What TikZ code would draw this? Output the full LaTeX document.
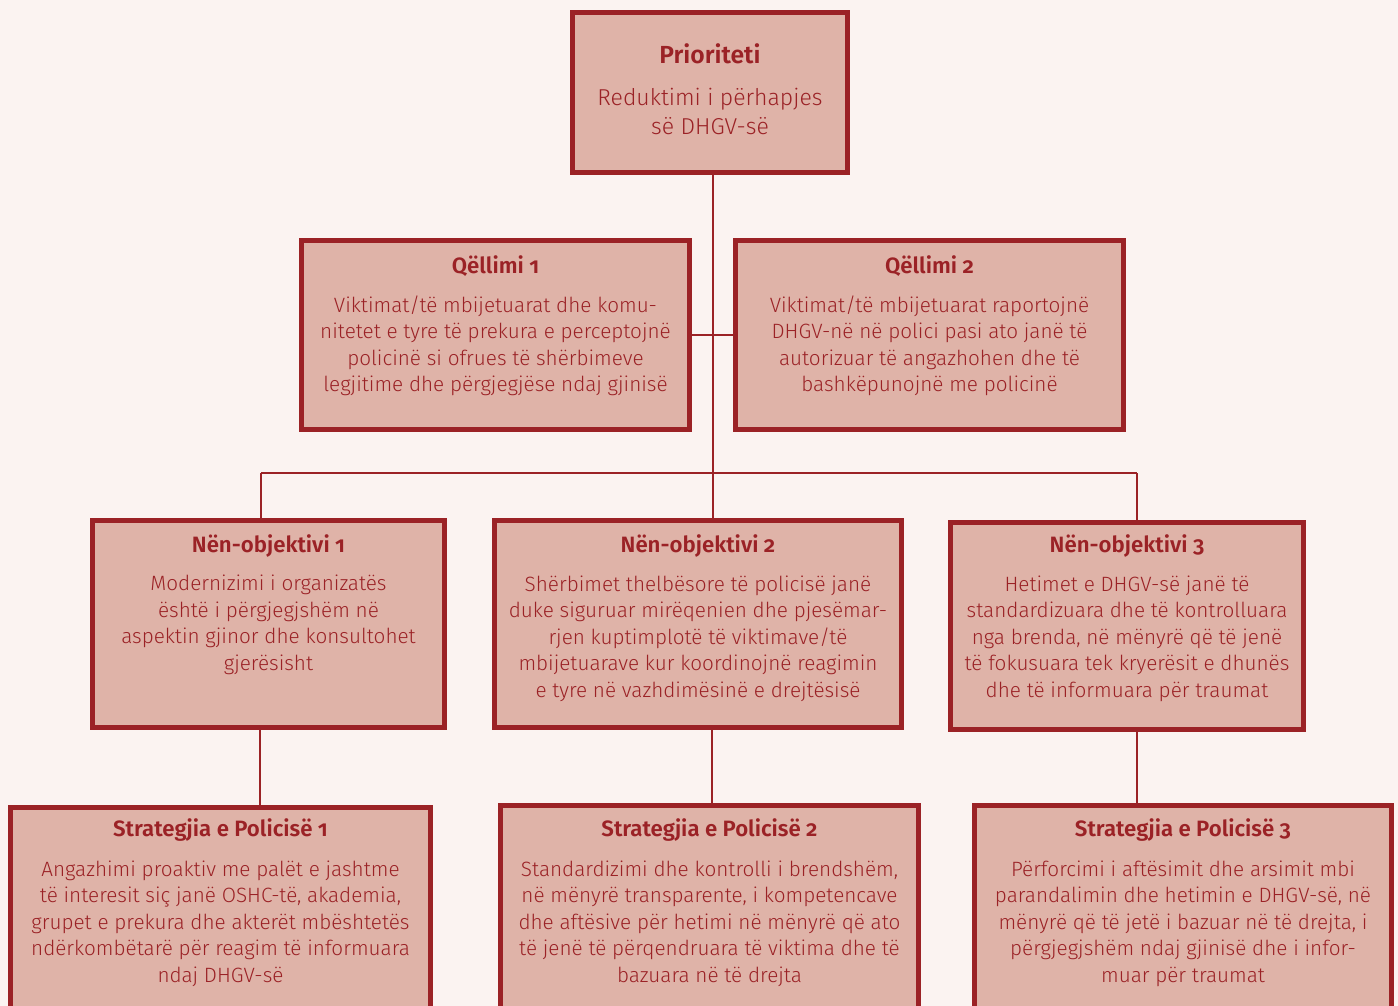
\documentclass[tikz,border=0pt]{standalone}
\usepackage{fontspec}
\setmainfont{Fira Sans}[UprightFont=* Light, BoldFont=* SemiBold, Numbers=OldStyle]
\definecolor{pagebg}{RGB}{251,243,241}
\definecolor{boxfill}{RGB}{223,179,168}
\definecolor{dred}{RGB}{155,34,38}
\begin{document}
\begin{tikzpicture}[x=1pt,y=-1pt,
  box/.style={draw=dred, fill=boxfill, line width=5pt, rectangle, inner sep=0pt},
  ttl/.style={text=dred, inner sep=0pt, font=\bfseries\fontsize{22.2}{26}\selectfont},
  bigttl/.style={text=dred, inner sep=0pt, font=\bfseries\fontsize{24.7}{29}\selectfont},
  bodytxt/.style={text=dred, inner sep=0pt, align=center, font=\fontsize{20.7}{26.5}\selectfont},
  bigbody/.style={text=dred, inner sep=0pt, align=center, font=\fontsize{23}{29}\selectfont},
  link/.style={draw=dred, line width=2.5pt}]
\useasboundingbox (0,0) rectangle (1398,1006);
\clip (0,0) rectangle (1398,1006);
\fill[pagebg] (0,0) rectangle (1398,1006);

% boxes
\node[box, minimum width=275pt, minimum height=160pt] (prio) at (710,92.5) {};
\node[box, minimum width=388pt, minimum height=189pt] (q1) at (495.5,335) {};
\node[box, minimum width=388pt, minimum height=189pt] (q2) at (929.5,335) {};
\node[box, minimum width=352pt, minimum height=207pt] (no1) at (268.5,624) {};
\node[box, minimum width=407pt, minimum height=207pt] (no2) at (698,624) {};
\node[box, minimum width=353pt, minimum height=207pt] (no3) at (1127,626) {};
\node[box, minimum width=420pt, minimum height=235pt] (sp1) at (220.5,925) {};
\node[box, minimum width=418pt, minimum height=237pt] (sp2) at (709.5,924) {};
\node[box, minimum width=417pt, minimum height=237pt] (sp3) at (1183,924) {};

% connectors
\coordinate (hub) at (713,473);
\coordinate (lft) at (261,473);
\coordinate (rgt) at (1137,473);
\coordinate (d1) at (260,0);
\coordinate (d2) at (712,0);
\coordinate (d3) at (1137,0);
\draw[link] (prio.south -| hub) -- (hub);
\draw[link] (q1.east) -- (q2.west);
\draw[link] (lft) -- (rgt);
\draw[link] (lft) -- (lft |- no1.north);
\draw[link] (hub) -- (hub |- no2.north);
\draw[link] (rgt) -- (rgt |- no3.north);
\draw[link] (no1.south -| d1) -- (sp1.north -| d1);
\draw[link] (no2.south -| d2) -- (sp2.north -| d2);
\draw[link] (no3.south -| d3) -- (sp3.north -| d3);

% texts
\node[bigttl] (prioT) at (710,53.5) {Prioriteti};
\node[bigbody] (prioB) at (710,111) {Reduktimi i përhapjes\\së DHGV-së};

\node[ttl] (q1T) at (495.5,266) {Qëllimi 1};
\node[bodytxt] (q1B) at (495.5,346) {Viktimat/të mbijetuarat dhe komu-\\nitetet e tyre të prekura e perceptojnë\\policinë si ofrues të shërbimeve\\legjitime dhe përgjegjëse ndaj gjinisë};

\node[ttl] (q2T) at (929.5,266) {Qëllimi 2};
\node[bodytxt] (q2B) at (929.5,346) {Viktimat/të mbijetuarat raportojnë\\DHGV-në në polici pasi ato janë të\\autorizuar të angazhohen dhe të\\bashkëpunojnë me policinë};

\node[ttl] (no1T) at (268.5,546) {Nën-objektivi 1};
\node[bodytxt] (no1B) at (268.5,625) {Modernizimi i organizatës\\është i përgjegjshëm në\\aspektin gjinor dhe konsultohet\\gjerësisht};

\node[ttl] (no2T) at (698,546) {Nën-objektivi 2};
\node[bodytxt] (no2B) at (698,638.5) {Shërbimet thelbësore të policisë janë\\duke siguruar mirëqenien dhe pjesëmar-\\rjen kuptimplotë të viktimave/të\\mbijetuarave kur koordinojnë reagimin\\e tyre në vazhdimësinë e drejtësisë};

\node[ttl] (no3T) at (1127,546) {Nën-objektivi 3};
\node[bodytxt] (no3B) at (1127,638.5) {Hetimet e DHGV-së janë të\\standardizuara dhe të kontrolluara\\nga brenda, në mënyrë që të jenë\\të fokusuara tek kryerësit e dhunës\\dhe të informuara për traumat};

\node[ttl] (sp1T) at (220.5,830) {Strategjia e Policisë 1};
\node[bodytxt] (sp1B) at (220.5,923.5) {Angazhimi proaktiv me palët e jashtme\\të interesit siç janë OSHC-të, akademia,\\grupet e prekura dhe akterët mbështetës\\ndërkombëtarë për reagim të informuara\\ndaj DHGV-së};

\node[ttl] (sp2T) at (709.5,830) {Strategjia e Policisë 2};
\node[bodytxt] (sp2B) at (709.5,923.5) {Standardizimi dhe kontrolli i brendshëm,\\në mënyrë transparente, i kompetencave\\dhe aftësive për hetimi në mënyrë që ato\\të jenë të përqendruara të viktima dhe të\\bazuara në të drejta};

\node[ttl] (sp3T) at (1183,830) {Strategjia e Policisë 3};
\node[bodytxt] (sp3B) at (1183,923.5) {Përforcimi i aftësimit dhe arsimit mbi\\parandalimin dhe hetimin e DHGV-së, në\\mënyrë që të jetë i bazuar në të drejta, i\\përgjegjshëm ndaj gjinisë dhe i infor-\\muar për traumat};
\end{tikzpicture}
\end{document}
